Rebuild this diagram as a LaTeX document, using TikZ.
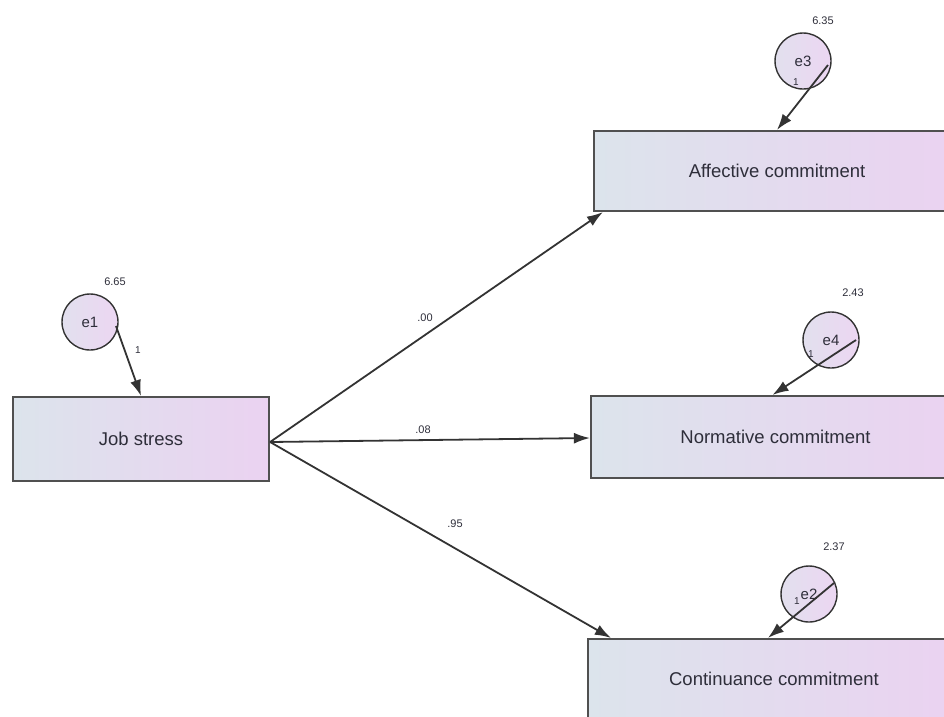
\documentclass[tikz,border=0pt]{standalone}
\usepackage{fontspec}
\setmainfont{Liberation Sans}
\usetikzlibrary{arrows.meta,calc}
\definecolor{boxL}{HTML}{DCE4EC}
\definecolor{boxR}{HTML}{EBD2F1}
\definecolor{cirL}{HTML}{E2E0EE}
\definecolor{cirR}{HTML}{ECD6F2}
\definecolor{edge}{HTML}{505050}
\definecolor{txt}{HTML}{2E2E3A}
\begin{document}
\begin{tikzpicture}[x=1pt,y=-1pt,
  varbox/.style={draw=edge,line width=2.2pt,left color=boxL,right color=boxR,
    inner sep=0pt,font=\fontsize{18.5}{20}\selectfont,text=txt},
  errc/.style={circle,draw=black!80,line width=1.4pt,left color=cirL,right color=cirR,
    minimum size=56pt,inner sep=0pt,font=\fontsize{15}{16}\selectfont,text=txt},
  arr/.style={draw=black!80,line width=1.8pt,-{Latex[length=16pt,width=11pt]}},
  val/.style={font=\fontsize{11}{12}\selectfont,text=txt,inner sep=0pt},
  one/.style={font=\fontsize{10}{11}\selectfont,text=txt,inner sep=0pt}]
\useasboundingbox (0,0) rectangle (944,716);
% boxes
\node[varbox,minimum width=256pt,minimum height=84pt] (js) at (141,439) {Job stress};
\node[varbox,minimum width=366pt,minimum height=80pt] (ac) at (777,171) {Affective commitment};
\node[varbox,minimum width=369pt,minimum height=82pt] (nc) at (775.5,437) {Normative commitment};
\node[varbox,minimum width=372pt,minimum height=80pt] (cc) at (774,679) {Continuance commitment};
% error circles
\node[errc] (e1) at (90,322) {e1};
\node[errc] (e3) at (803,61) {e3};
\node[errc] (e4) at (831,340) {e4};
\node[errc] (e2) at (809,594) {e2};
% variance labels
\node[val] (v1) at (115,282) {6.65};
\node[val] (v3) at (823,21) {6.35};
\node[val] (v4) at (853,293) {2.43};
\node[val] (v2) at (834,547) {2.37};
% error paths
\draw[arr] ($(e1)+(26,4)$) -- (js.north);
\draw[arr] ($(e3)+(25,4)$) -- (ac.north);
\draw[arr] ($(e4)+(25,0)$) -- ([xshift=-3pt]nc.north);
\draw[arr] ($(e2)+(25,-11)$) -- ([xshift=-6pt]cc.north);
\node[one] (o1) at (138,350) {1};
\node[one] (o3) at (796,82) {1};
\node[one] (o4) at (811,354) {1};
\node[one] (o2) at (797,601) {1};
% structural paths
\coordinate (jsr) at ([yshift=-3pt]js.east);
\draw[arr] (jsr) -- ([xshift=10pt]ac.south west);
\draw[arr] (jsr) -- ([yshift=-1pt]nc.west);
\draw[arr] (jsr) -- ([xshift=24pt]cc.north west);
\node[val] (p1) at (425,318) {.00};
\node[val] (p2) at (423,430) {.08};
\node[val] (p3) at (455,524) {.95};
\end{tikzpicture}
\end{document}
